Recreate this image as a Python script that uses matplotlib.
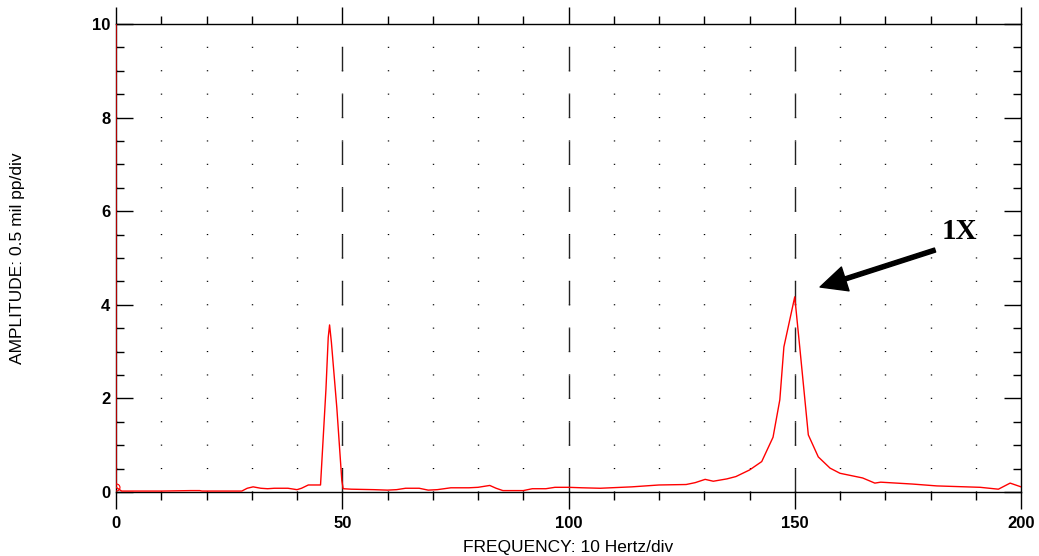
import matplotlib.pyplot as plt
import numpy as np

# spectrum (Hz, mil pp)
freq = [0, 0, 1.25, 10, 16.5, 18.5, 19, 27.8, 29, 30.3, 32, 33.5, 35, 38, 40,
        41, 42.5, 45.2, 46.4, 46.9, 47.2, 47.6, 48.8, 49.9, 50.2, 52, 57, 60,
        62, 64, 67, 69, 71, 74, 78, 80, 82.6, 84, 85.5, 90, 92, 95, 97, 100,
        103, 107, 114, 120, 126, 128, 130.2, 132, 135, 137, 140, 142.7, 145.2,
        146.7, 147.6, 150, 151.1, 153, 155.2, 157.8, 160, 165, 167.7, 169, 176,
        181.4, 191, 195, 197.6, 200]
amp = [10.5, 0.1, 0.02, 0.02, 0.03, 0.03, 0.02, 0.02, 0.08, 0.11, 0.08, 0.07,
       0.08, 0.08, 0.05, 0.08, 0.15, 0.15, 2.2, 3.3, 3.57, 3.2, 1.8, 0.25, 0.07,
       0.06, 0.05, 0.04, 0.05, 0.08, 0.08, 0.04, 0.05, 0.09, 0.09, 0.1, 0.14,
       0.08, 0.03, 0.03, 0.07, 0.07, 0.1, 0.1, 0.09, 0.08, 0.11, 0.15, 0.16,
       0.2, 0.27, 0.23, 0.28, 0.33, 0.47, 0.65, 1.17, 1.97, 3.1, 4.17, 3.1,
       1.22, 0.75, 0.51, 0.4, 0.3, 0.19, 0.21, 0.17, 0.13, 0.1, 0.06, 0.19, 0.11]

div_lines = [50, 100, 150]
x_major = [0, 50, 100, 150, 200]
y_major = [0, 2, 4, 6, 8, 10]

plt.rcParams['lines.scale_dashes'] = False
plt.rcParams['font.family'] = 'Liberation Sans'

fig = plt.figure(figsize=(10.39, 5.56), dpi=100)
ax = fig.add_axes([116 / 1039, 64 / 556, 905 / 1039, 468 / 556])

ax.set_xlim(0, 200)
ax.set_ylim(0, 10)

# dotted grid: one dot at each 10 Hz / 0.5 division crossing
step_pt = 23.4 * 0.72
ax.set_xticks(np.arange(0, 201, 10), minor=True)
ax.set_yticks(np.arange(0, 10.01, 0.5), minor=True)
ax.grid(which='both', axis='x', color='black', linewidth=1.0,
        linestyle=(0, (0.8, step_pt - 0.8)))

# dashed lines every 50 Hz
for d in div_lines:
    ax.plot([d, d], [0, 10], color='#222222', linewidth=1.0,
            linestyle=(0, (step_pt, step_pt)), zorder=2)

ax.plot(freq, amp, color='#ff0000', linewidth=1.0, zorder=3, clip_on=True)
ax.plot(freq[1], amp[1], marker='o', markersize=5, markerfacecolor='none',
        markeredgecolor='#ff0000', markeredgewidth=0.8, zorder=4)

ax.set_xticks(x_major)
ax.set_yticks(y_major)
ax.tick_params(axis='x', which='both', direction='out', top=True, bottom=True,
               labeltop=False, width=1, pad=5)
ax.tick_params(axis='x', which='major', length=12)
ax.tick_params(axis='x', which='minor', length=6)
ax.tick_params(axis='y', which='both', direction='in', left=True, right=True,
               width=1, pad=4)
ax.tick_params(axis='y', which='major', length=12)
ax.tick_params(axis='y', which='minor', length=6)
for lbl in ax.get_xticklabels() + ax.get_yticklabels():
    lbl.set_fontsize(12)
    lbl.set_fontweight('bold')

for s in ax.spines.values():
    s.set_linewidth(1)
    s.set_color('black')

ax.set_xlabel('FREQUENCY: 10 Hertz/div', fontsize=12.5)
ax.set_ylabel('AMPLITUDE: 0.5 mil pp/div', fontsize=12.5)
ax.xaxis.set_label_coords(0.5, -0.1026)
ax.yaxis.set_label_coords(-0.100, 0.5)

# 1X annotation
ax.annotate('', xy=(155.6, 4.38), xytext=(181, 5.17),
            arrowprops=dict(facecolor='black', edgecolor='black', width=3,
                            headwidth=18, headlength=19, shrink=0))
ax.text(186.5, 5.56, '1X', fontsize=21, fontweight='bold',
        family='Liberation Serif', ha='center', va='center')

fig.savefig('out.png', dpi=100)
